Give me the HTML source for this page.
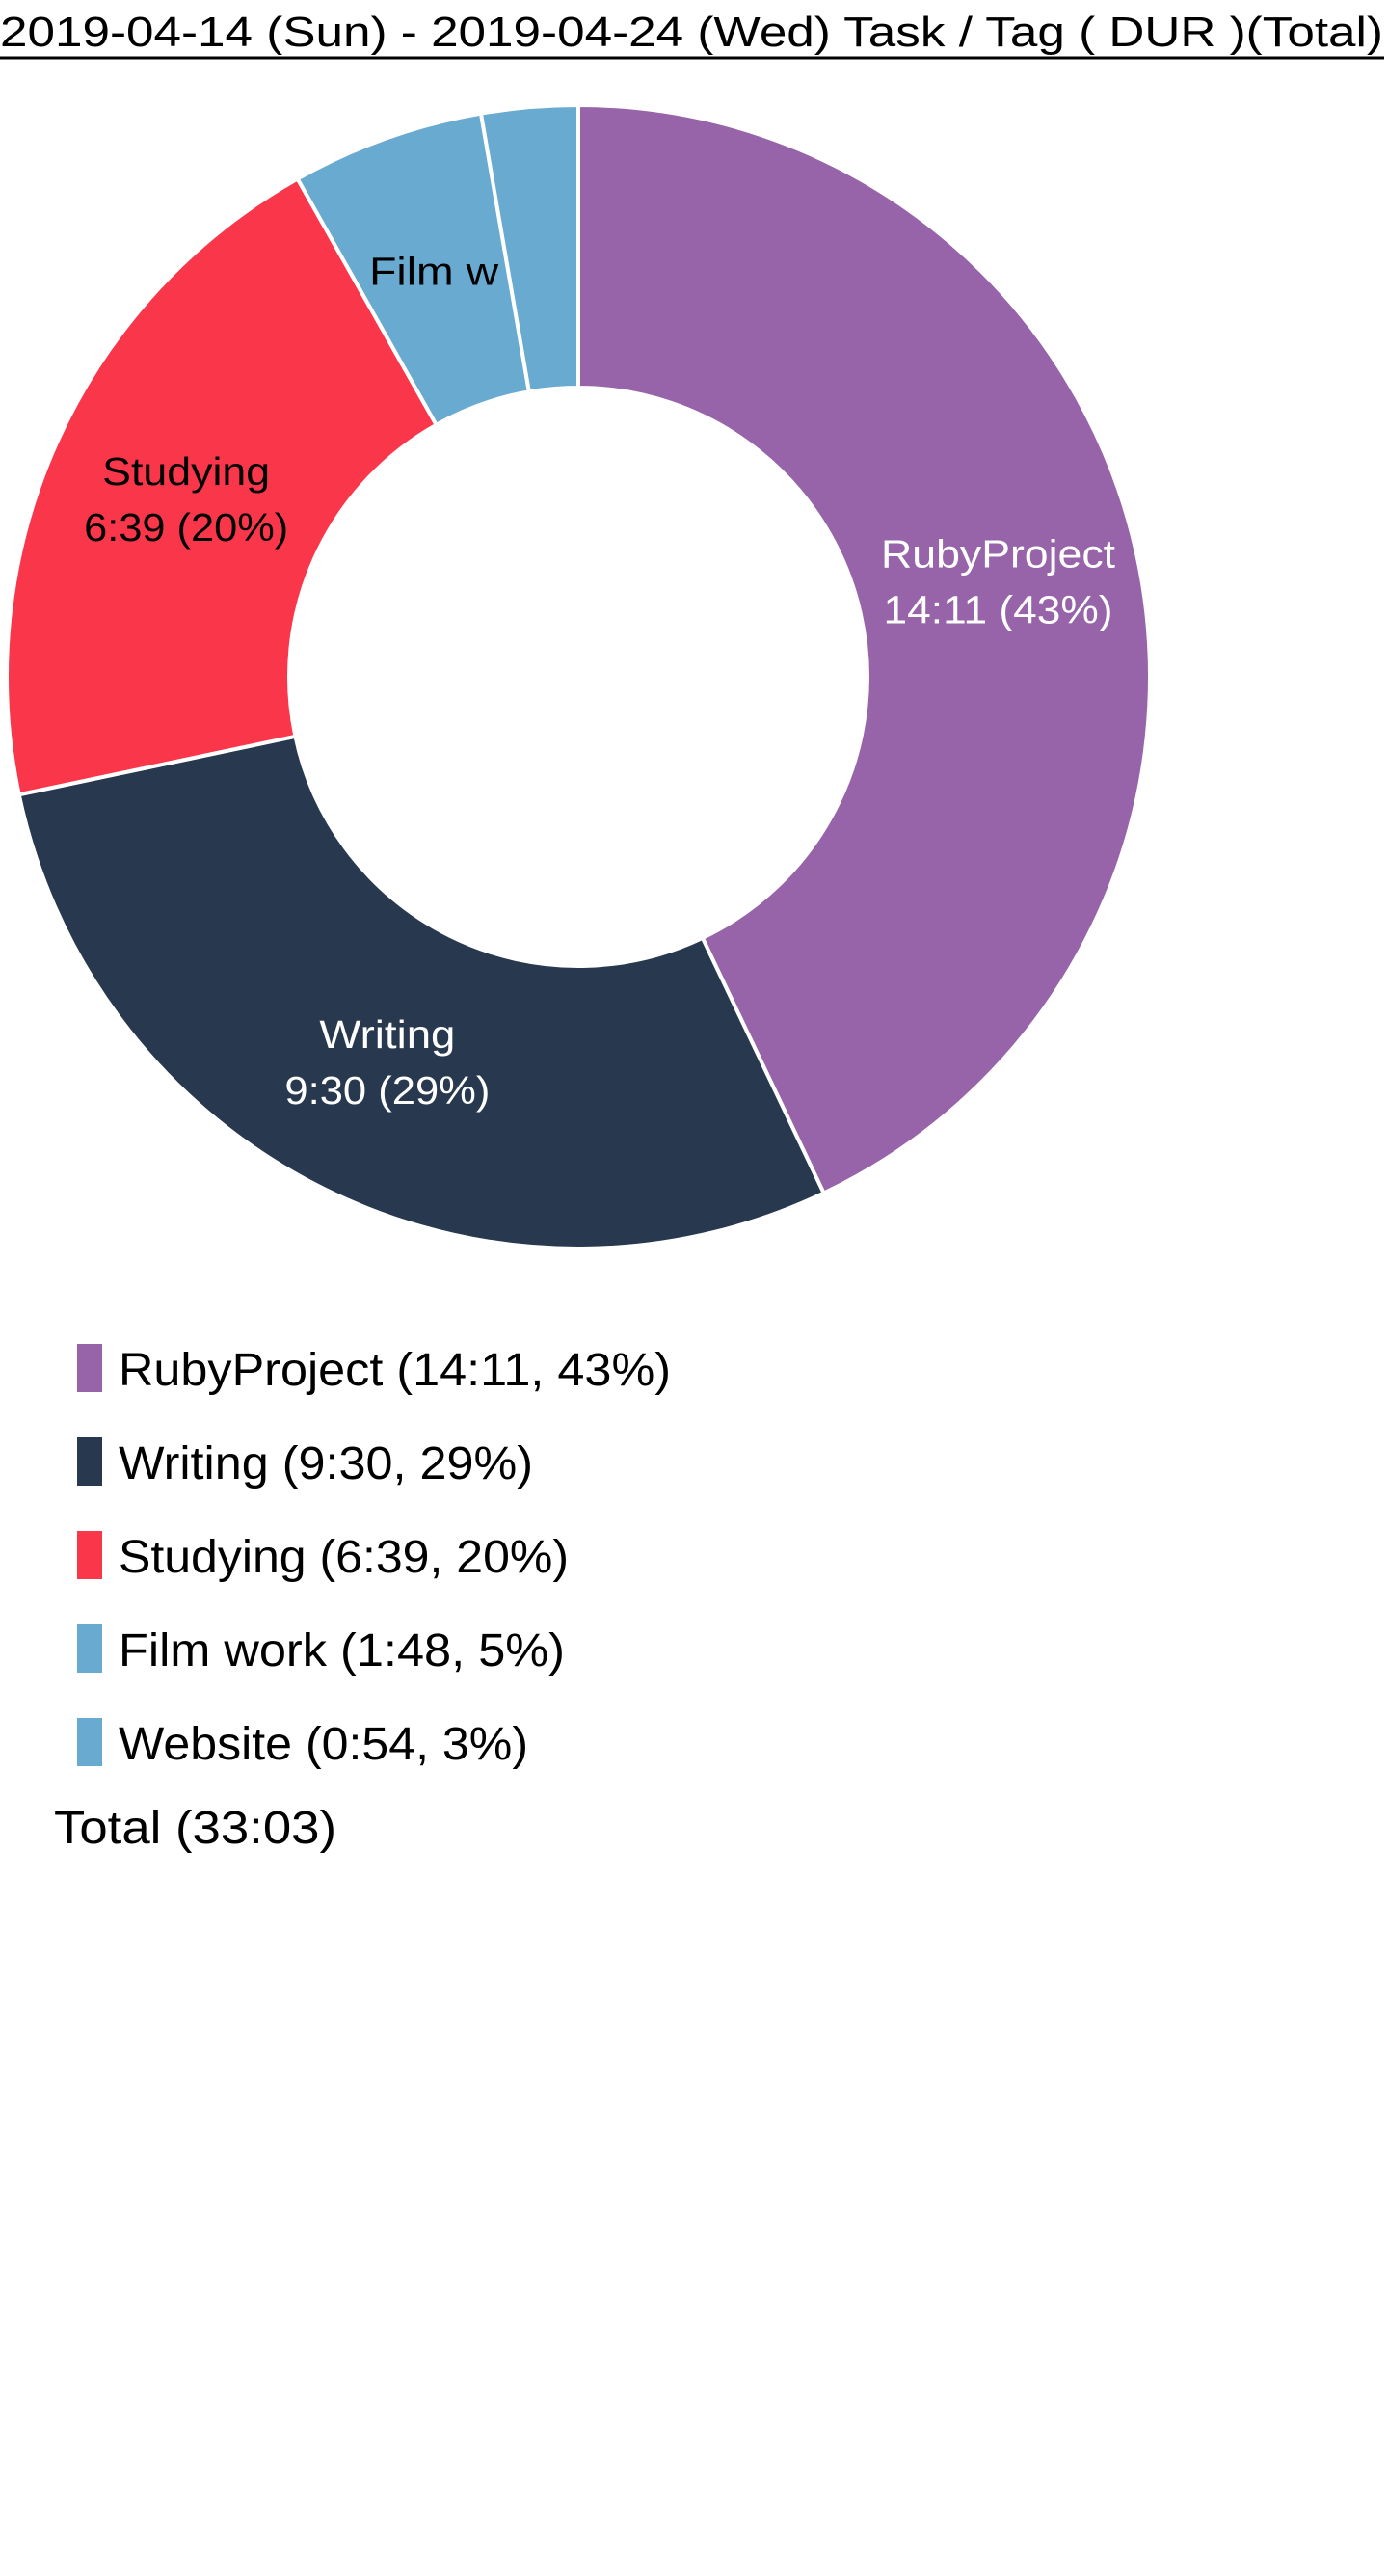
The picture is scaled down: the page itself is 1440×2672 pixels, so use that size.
<!DOCTYPE html>
<html><head><meta charset="utf-8"><style>
html,body{margin:0;padding:0;background:#fff;width:1440px;height:2672px;overflow:hidden}
svg{display:block}
text{font-family:"Liberation Sans",sans-serif}
</style></head><body>
<svg id="chart" width="1440" height="2672">
  <text x="0" y="48" font-size="44" textLength="1435" lengthAdjust="spacingAndGlyphs" fill="#000">2019-04-14 (Sun) - 2019-04-24 (Wed) Task / Tag ( DUR )(Total)</text>
  <line x1="0" y1="60" x2="1436" y2="60" stroke="#000" stroke-width="3"/>
  <g id="slices"></g>
  <g id="labels"></g>
  <g id="legend"></g>
</svg>
<script>
const categories = ["RubyProject","Writing","Studying","Film work","Website"];
const minutes = [851, 570, 399, 108, 54];
const durLabels = ["14:11","9:30","6:39","1:48","0:54"];
const pctLabels = ["43%","29%","20%","5%","3%"];
const totalLabel = "33:03";
const colors = ["#9764a9","#28394f","#fa364b","#69aad1","#69aad1"];
const labelColors = ["#fff","#fff","#000","#000","#000"];
const sliceLabelText = [["RubyProject","14:11 (43%)"],["Writing","9:30 (29%)"],["Studying","6:39 (20%)"],["Film w"],[]];
const sliceLabelWidths = [[243,238],[141,213],[174,212],[134],[]];
const legendWidths = [573, 430, 467, 463, 425];

const NS = "http://www.w3.org/2000/svg";
const cx = 600, cy = 702, R = 593, r = 300;
const total = minutes.reduce((a,b)=>a+b,0);
function angle(v){ return v/total*2*Math.PI; }
function pt(rad, a){ return [cx + rad*Math.sin(a), cy - rad*Math.cos(a)]; }
const gS = document.getElementById('slices');
const gL = document.getElementById('labels');
const gLeg = document.getElementById('legend');
let acc = 0;
minutes.forEach((m,i)=>{
  const a0 = angle(acc), a1 = angle(acc+m); acc += m;
  const large = (a1-a0) > Math.PI ? 1 : 0;
  const [x0,y0]=pt(R,a0),[x1,y1]=pt(R,a1),[x2,y2]=pt(r,a1),[x3,y3]=pt(r,a0);
  const p = document.createElementNS(NS,'path');
  p.setAttribute('d',`M${x0},${y0} A${R},${R} 0 ${large} 1 ${x1},${y1} L${x2},${y2} A${r},${r} 0 ${large} 0 ${x3},${y3} Z`);
  p.setAttribute('fill',colors[i]);
  p.setAttribute('stroke','#fff');
  p.setAttribute('stroke-width','4');
  
  
  gS.appendChild(p);
  const lines = sliceLabelText[i];
  if (lines.length){
    const [lx,ly] = pt((R+r)/2,(a0+a1)/2);
    const t = document.createElementNS(NS,'text');
    t.setAttribute('text-anchor','middle');
    t.setAttribute('font-size','41');
    t.setAttribute('fill',labelColors[i]);
    
    
    const off = lines.length===2 ? -29 : 0;
    lines.forEach((s,k)=>{
      const ts=document.createElementNS(NS,'tspan');
      ts.setAttribute('x',lx); ts.setAttribute('y',ly+off+k*58+14);
      ts.setAttribute('textLength',sliceLabelWidths[i][k]);
      ts.setAttribute('lengthAdjust','spacingAndGlyphs');
      ts.textContent=s; t.appendChild(ts);
    });
    gL.appendChild(t);
  }
  const rowY = 1394 + i*97;
  const sq = document.createElementNS(NS,'rect');
  sq.setAttribute('x',80); sq.setAttribute('y',rowY); sq.setAttribute('width',26); sq.setAttribute('height',50);
  sq.setAttribute('fill',colors[i]);
  
  
  gLeg.appendChild(sq);
  const lt = document.createElementNS(NS,'text');
  lt.setAttribute('x',123); lt.setAttribute('y',rowY+43);
  lt.setAttribute('font-size','48');
  lt.setAttribute('textLength',legendWidths[i]);
  lt.setAttribute('lengthAdjust','spacingAndGlyphs');
  lt.textContent = `${categories[i]} (${durLabels[i]}, ${pctLabels[i]})`;
  
  
  gLeg.appendChild(lt);
});
const tt = document.createElementNS(NS,'text');
tt.setAttribute('x',56); tt.setAttribute('y',1912);
tt.setAttribute('font-size','48');
tt.setAttribute('textLength',293);
tt.setAttribute('lengthAdjust','spacingAndGlyphs');
tt.textContent = `Total (${totalLabel})`;


gLeg.appendChild(tt);
</script>
</body></html>
